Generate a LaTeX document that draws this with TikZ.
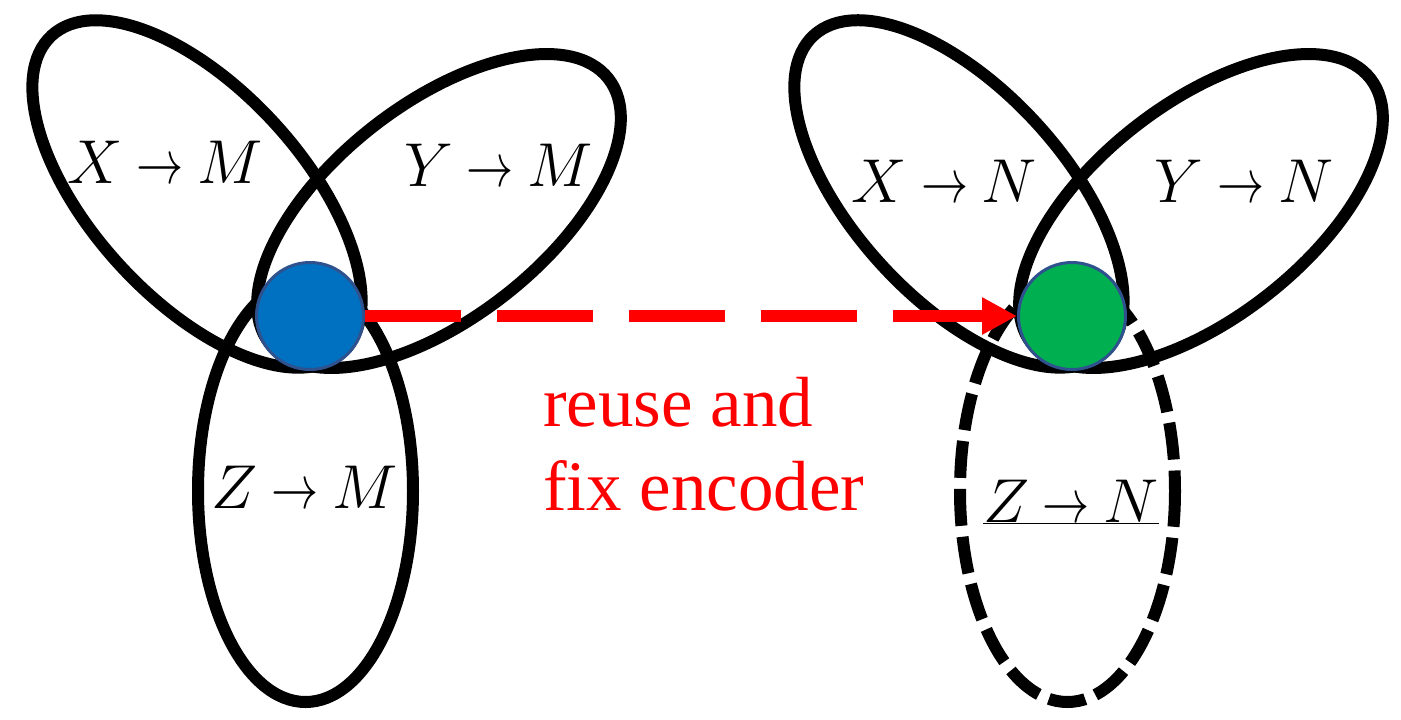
\RequirePackage{fix-cm}
\documentclass[tikz,border=0pt]{standalone}
\usepackage{fontspec}
\usepackage{graphicx}
\usetikzlibrary{arrows.meta}
\newfontfamily\redfont{Liberation Serif}
\definecolor{encblue}{HTML}{0070C0}
\definecolor{encgreen}{HTML}{00B050}
\definecolor{encedge}{HTML}{2F528F}
\newcommand{\maplab}[2]{$#1\mskip4mu\scalebox{0.76}[1]{$\rightarrow$}\mskip4mu#2$}
\tikzset{
  ring/.style={draw=black, line width=12pt},
  ringdash/.style={ring, dash pattern=on 37pt off 11pt, dash phase=16.5pt},
  enc/.style={circle, draw=encedge, line width=3pt, minimum size=107pt, inner sep=0pt},
  lab/.style={inner sep=0pt, anchor=base, font=\fontsize{62}{62}\selectfont},
  redtxt/.style={inner sep=0pt, anchor=base west, text=red, font=\redfont\fontsize{71}{84}\selectfont},
  reusearrow/.style={draw=red, line width=12pt, dash pattern=on 96pt off 36pt,
    -{Triangle[length=35pt,width=35pt]}}
}
\begin{document}
\begin{tikzpicture}[x=1pt,y=1pt]
\useasboundingbox (0,0) rectangle (1401,-720);
% centres of the ellipses
\coordinate (cxm) at (197,-194);
\coordinate (cym) at (439,-211);
\coordinate (czm) at (305.5,-491);
\coordinate (cxn) at (959,-194);
\coordinate (cyn) at (1201,-211);
\coordinate (czn) at (1067.5,-491);
% left group
\draw[ring, rotate around={-47.5:(cxm)}] (cxm) ellipse [x radius=215pt, y radius=105pt];
\draw[ring, rotate around={38:(cym)}] (cym) ellipse [x radius=215pt, y radius=107pt];
\draw[ring] (czm) ellipse [x radius=107.5pt, y radius=211pt];
% right group
\draw[ring, rotate around={-47.5:(cxn)}] (cxn) ellipse [x radius=215pt, y radius=105pt];
\draw[ring, rotate around={38:(cyn)}] (cyn) ellipse [x radius=215pt, y radius=107pt];
\draw[ringdash] (czn) ellipse [x radius=107.5pt, y radius=211pt];
% encoders
\node[enc, fill=encblue] (enc1) at (310,-316) {};
\node[enc, fill=encgreen] (enc2) at (1072,-316) {};
\draw[reusearrow] (enc1.east) -- (enc2.west);
% labels
\node[lab] (lxm) at (165,-183) {\maplab{X}{M}};
\node[lab] (lym) at (498.5,-186) {\maplab{Y}{M}};
\node[lab] (lzm) at (304.5,-508) {\maplab{Z}{M}};
\node[lab] (lxn) at (944.5,-202) {\maplab{X}{N}};
\node[lab] (lyn) at (1244,-202) {\maplab{Y}{N}};
\node[lab] (lzn) at (1071,-522) {\underline{\maplab{Z}{N}}};
\node[redtxt] (t1) at (543,-426) {reuse and};
\node[redtxt] (t2) at (543,-510) {fix encoder};
\end{tikzpicture}
\end{document}
